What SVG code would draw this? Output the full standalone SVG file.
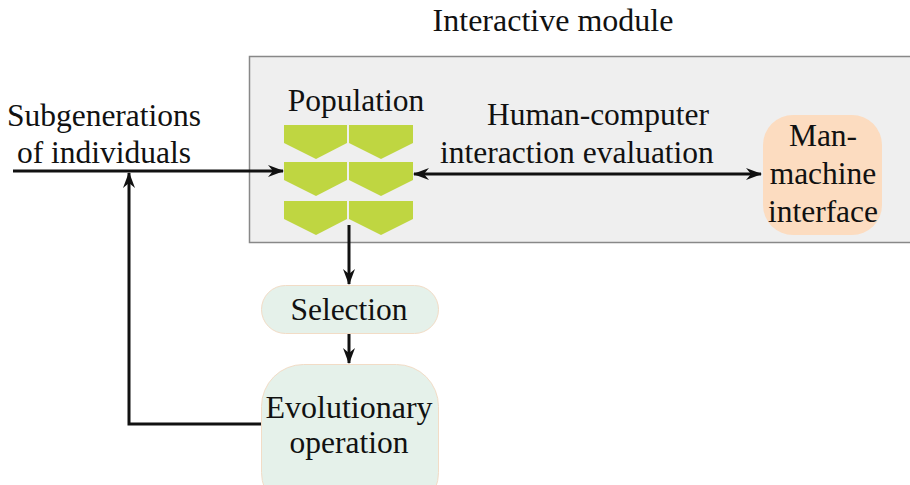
<svg xmlns="http://www.w3.org/2000/svg" width="910" height="485" viewBox="0 0 910 485">
<style>
text{font-family:"Liberation Serif","Times New Roman",serif;font-size:31.5px;fill:#111;text-anchor:middle}
.ln{stroke:#111;stroke-width:3;fill:none}
.pop{fill:#bfd641}
</style>
<defs>
<marker id="ah" viewBox="0 0 16 12" refX="15" refY="6" markerWidth="16" markerHeight="12" markerUnits="userSpaceOnUse" orient="auto-start-reverse">
<path d="M0,0 L16,6 L0,12 L5,6 z" fill="#111"/>
</marker>
</defs>
<rect width="910" height="485" fill="#fff"/>
<g id="module">
<rect x="249.5" y="56.5" width="662" height="186" fill="#efefef" stroke="#888" stroke-width="1.5"/>
<text x="553" y="31" style="font-size:32px">Interactive module</text>
</g>
<g id="population">
<text x="356" y="111">Population</text>
<path class="pop" d="M284,125 H347 V143 L316,159 L284,143 Z"/>
<path class="pop" d="M349,125 H413 V143 L381,159 L349,143 Z"/>
<path class="pop" d="M284,162 H347 V180 L316,196 L284,180 Z"/>
<path class="pop" d="M349,162 H413 V180 L381,196 L349,180 Z"/>
<path class="pop" d="M284,201 H347 V219 L316,235 L284,219 Z"/>
<path class="pop" d="M349,201 H413 V219 L381,235 L349,219 Z"/>
</g>
<g id="mmi">
<rect x="763" y="115" width="119" height="120" rx="30" fill="#fcdcc0"/>
<text x="823" y="146">Man-</text>
<text x="823" y="184">machine</text>
<text x="823" y="222">interface</text>
</g>
<g id="selection">
<rect x="261.5" y="285.5" width="177" height="48" rx="24" fill="#e5f1ea" stroke="#f2dcc6" stroke-width="1"/>
<text x="349" y="320">Selection</text>
</g>
<g id="evolutionary">
<rect x="261.5" y="364.5" width="177" height="150" rx="42" fill="#e5f1ea" stroke="#f2dcc6" stroke-width="1"/>
<text x="349" y="418" style="font-size:32px">Evolutionary</text>
<text x="349" y="453">operation</text>
</g>
<g id="labels">
<text x="104" y="126">Subgenerations</text>
<text x="104" y="163">of individuals</text>
<text x="598" y="125">Human-computer</text>
<text x="577" y="163">interaction evaluation</text>
</g>
<g id="connectors">
<path class="ln" d="M13,171 H283" marker-end="url(#ah)"/>
<path class="ln" d="M414,174 H761" marker-start="url(#ah)" marker-end="url(#ah)"/>
<path class="ln" d="M349,225 V284" marker-end="url(#ah)"/>
<path class="ln" d="M349,334 V363" marker-end="url(#ah)"/>
<path class="ln" d="M261,424 H129 V173" marker-end="url(#ah)"/>
</g>
</svg>
